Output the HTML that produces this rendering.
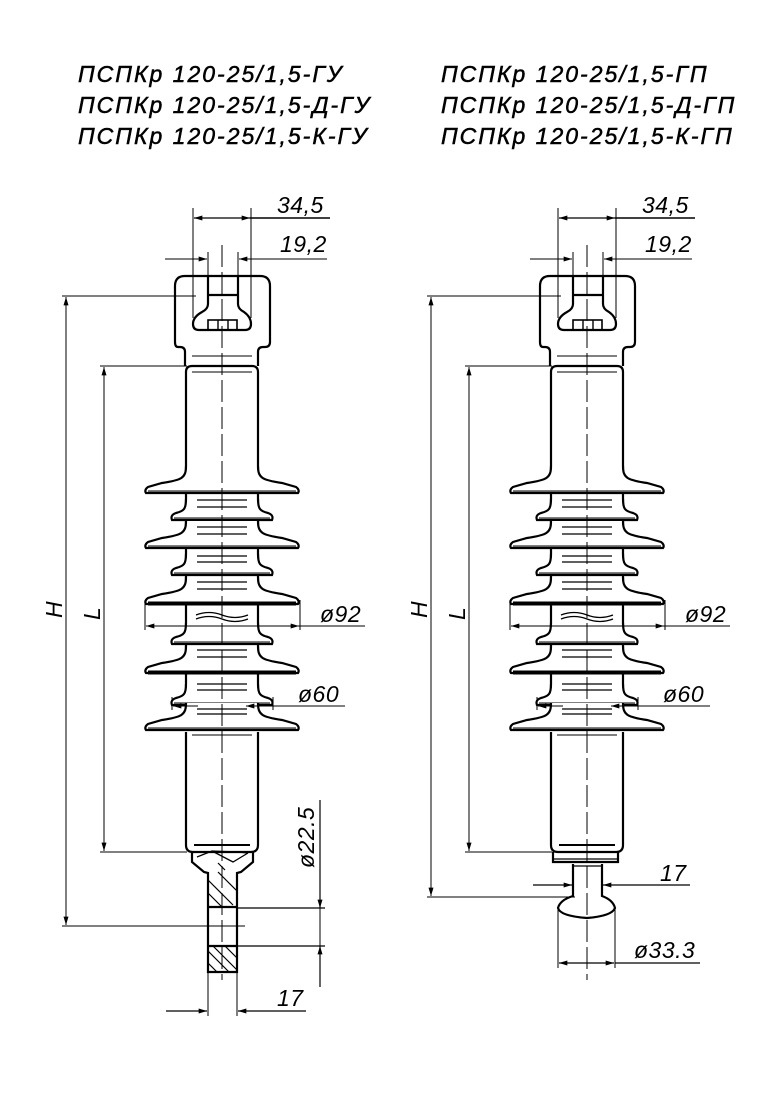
<!DOCTYPE html>
<html><head><meta charset="utf-8"><style>
html,body{margin:0;padding:0;background:#fff;}
svg{display:block;}
.t{font-family:"Liberation Sans","DejaVu Sans",sans-serif;font-style:italic;font-size:23px;letter-spacing:2px;fill:#000;stroke:#000;stroke-width:0.5;}
.d{font-family:"Liberation Sans","DejaVu Sans",sans-serif;font-style:italic;font-size:23px;letter-spacing:0.5px;fill:#000;}
</style></head><body>
<svg width="784" height="1103" viewBox="0 0 784 1103" xmlns="http://www.w3.org/2000/svg">
<defs>
<marker id="a" viewBox="0 0 10 6" refX="10" refY="3" markerWidth="12" markerHeight="5" orient="auto-start-reverse" markerUnits="userSpaceOnUse"><path d="M0,0 L10,3 L0,6z" fill="#000"/></marker>
<g id="big" fill="#fff" stroke="#000" stroke-width="2.2">
<path d="M-36,-20 C-36,-8 -40,-6 -60,-3 L-74,1 Q-78,4 -76,7 L76,7 Q78,4 74,1 L60,-3 C40,-6 36,-8 36,-20"/>
<line x1="-74" y1="5" x2="74" y2="5" stroke-width="1"/>
</g>
<g id="small" fill="#fff" stroke="#000" stroke-width="2.2">
<path d="M-36,-16 C-36,-6 -38,-4 -46,-2 Q-52,0 -50,5 L50,5 Q52,0 46,-2 C38,-4 36,-6 36,-16"/>
<line x1="-48" y1="3" x2="48" y2="3" stroke-width="1"/>
</g>
<g id="ins">
<path d="M-37,366 L-37,352 Q-37,347 -42,347 L-44,347 Q-47,347 -47,342 L-47,286 Q-47,276 -37,276 L38,276 Q48,276 48,286 L48,342 Q48,347 43,347 L41,347 Q36,347 36,352 L36,366" fill="none" stroke="#000" stroke-width="2.2"/>
<path d="M-14,276 L-14,304 Q-14,309 -20,312 Q-29,317 -29,324 Q-29,330 -23,330 L23,330 Q29,330 29,324 Q29,317 22,312 Q16,309 16,304 L16,276" fill="none" stroke="#000" stroke-width="2.2"/>
<line x1="-14" y1="295" x2="16" y2="295" stroke="#000" stroke-width="2.2"/>
<rect x="-14" y="320" width="29" height="10" fill="none" stroke="#000" stroke-width="1.6"/>
<line x1="-4" y1="320" x2="-4" y2="330" stroke="#000" stroke-width="1.4"/>
<line x1="6" y1="320" x2="6" y2="330" stroke="#000" stroke-width="1.4"/>
<line x1="-30" y1="356" x2="30" y2="356" stroke="#000" stroke-width="1"/>
<path d="M-36,480 L-36,372 Q-36,366 -30,366 L30,366 Q36,366 36,372 L36,480" fill="none" stroke="#000" stroke-width="2.2"/>
<line x1="-30" y1="372" x2="30" y2="372" stroke="#000" stroke-width="1"/>
<line x1="-30" y1="474" x2="30" y2="474" stroke="#000" stroke-width="2"/>
<line x1="-36" y1="490" x2="-36" y2="730" stroke="#000" stroke-width="2.2"/>
<line x1="36" y1="490" x2="36" y2="730" stroke="#000" stroke-width="2.2"/>
<use href="#big" y="486"/>
<use href="#small" y="515"/>
<use href="#big" y="541"/>
<use href="#small" y="570"/>
<use href="#big" y="597"/>
<use href="#small" y="639"/>
<use href="#big" y="666"/>
<use href="#small" y="700"/>
<use href="#big" y="723"/>
<line x1="-74" y1="604" x2="74" y2="604" stroke="#000" stroke-width="3"/>
<line x1="-74" y1="673" x2="74" y2="673" stroke="#000" stroke-width="3"/>
<g stroke="#000" stroke-width="1.3">
<line x1="-25" y1="500" x2="25" y2="500"/><line x1="-25" y1="507" x2="25" y2="507"/>
<line x1="-25" y1="527" x2="25" y2="527"/><line x1="-25" y1="534" x2="25" y2="534"/>
<line x1="-25" y1="556" x2="25" y2="556"/><line x1="-25" y1="562" x2="25" y2="562"/>
<line x1="-25" y1="582" x2="25" y2="582"/><line x1="-25" y1="589" x2="25" y2="589"/>
<line x1="-25" y1="650" x2="25" y2="650"/><line x1="-25" y1="657" x2="25" y2="657"/>
<line x1="-25" y1="684" x2="25" y2="684"/><line x1="-25" y1="690" x2="25" y2="690"/>
<line x1="-25" y1="709" x2="25" y2="709"/><line x1="-25" y1="714" x2="25" y2="714"/>
</g>
<path d="M-26,615 Q-13,610 0,615 T26,615 M-26,619 Q-13,614 0,619 T26,619" fill="none" stroke="#000" stroke-width="1.3"/>
<path d="M-36,732 L-36,845 Q-36,852 -29,852 L29,852 Q36,852 36,845 L36,732" fill="none" stroke="#000" stroke-width="2.2"/>
<line x1="-30" y1="735" x2="30" y2="735" stroke="#000" stroke-width="1"/>
<line x1="-28" y1="845" x2="28" y2="845" stroke="#000" stroke-width="2"/>
<line x1="-29" y1="208" x2="-29" y2="318" stroke="#000" stroke-width="1"/>
<line x1="29" y1="208" x2="29" y2="318" stroke="#000" stroke-width="1"/>
<line x1="-14" y1="252" x2="-14" y2="276" stroke="#000" stroke-width="1"/>
<line x1="16" y1="252" x2="16" y2="276" stroke="#000" stroke-width="1"/>
<line x1="-28" y1="218" x2="0" y2="218" stroke="#000" stroke-width="1.2" marker-start="url(#a)"/>
<line x1="0" y1="218" x2="28" y2="218" stroke="#000" stroke-width="1.2" marker-end="url(#a)"/>
<line x1="28" y1="218" x2="108" y2="218" stroke="#000" stroke-width="1.6"/>
<line x1="-57" y1="259" x2="-15" y2="259" stroke="#000" stroke-width="1" marker-end="url(#a)"/>
<line x1="105" y1="259" x2="17" y2="259" stroke="#000" stroke-width="1" marker-end="url(#a)"/>
<text class="d" x="55" y="213">34,5</text>
<text class="d" x="58" y="252">19,2</text>
<line x1="-77" y1="600" x2="-77" y2="630" stroke="#000" stroke-width="1"/>
<line x1="78" y1="600" x2="78" y2="630" stroke="#000" stroke-width="1"/>
<line x1="-76" y1="626" x2="143" y2="626" stroke="#000" stroke-width="1" marker-start="url(#a)"/>
<line x1="0" y1="626" x2="77" y2="626" stroke="#000" stroke-width="1" marker-end="url(#a)"/>
<text class="d" x="98" y="622">ø92</text>
<line x1="-50" y1="697" x2="-50" y2="710" stroke="#000" stroke-width="1"/>
<line x1="51" y1="697" x2="51" y2="710" stroke="#000" stroke-width="1"/>
<line x1="-49" y1="706" x2="-24" y2="706" stroke="#000" stroke-width="1" marker-start="url(#a)"/>
<line x1="123" y1="706" x2="24" y2="706" stroke="#000" stroke-width="1" marker-end="url(#a)"/>
<text class="d" x="76" y="702">ø60</text>
<line x1="0" y1="245" x2="0" y2="980" stroke="#000" stroke-width="1" stroke-dasharray="22,5"/>
</g>
</defs>

<text class="t" x="78" y="82">ПСПКр 120-25/1,5-ГУ</text>
<text class="t" x="78" y="113">ПСПКр 120-25/1,5-Д-ГУ</text>
<text class="t" x="78" y="144">ПСПКр 120-25/1,5-К-ГУ</text>
<text class="t" x="441" y="82">ПСПКр 120-25/1,5-ГП</text>
<text class="t" x="441" y="113">ПСПКр 120-25/1,5-Д-ГП</text>
<text class="t" x="441" y="144">ПСПКр 120-25/1,5-К-ГП</text>

<use href="#ins" x="222"/>
<use href="#ins" x="587"/>

<g stroke="#000" fill="none">
<path d="M192,852 L192,862 L204,872 L208,873 L208,972 L237,972 L237,873 L241,872 L253,862 L253,852" stroke-width="2.2"/>
<path d="M197,857 L212,851 L237,852 L248,853 M212,851 L233,862 L248,853" stroke-width="1.3"/>
<line x1="208" y1="907" x2="237" y2="907" stroke-width="2.2"/>
<line x1="208" y1="946" x2="237" y2="946" stroke-width="2.2"/>
<g stroke-width="1.2">
<line x1="208" y1="880" x2="233" y2="905"/><line x1="218" y1="872" x2="237" y2="891"/><line x1="208" y1="893" x2="222" y2="907"/>
<line x1="208" y1="951" x2="229" y2="972"/><line x1="213" y1="946" x2="237" y2="970"/><line x1="225" y1="946" x2="237" y2="958"/><line x1="208" y1="963" x2="217" y2="972"/>
<line x1="218" y1="863" x2="225" y2="870"/>
</g>
<line x1="237" y1="908" x2="325" y2="908" stroke-width="1.2"/>
<line x1="237" y1="946" x2="325" y2="946" stroke-width="1.2"/>
<line x1="320" y1="800" x2="320" y2="908" stroke-width="1.2" marker-end="url(#a)"/>
<line x1="320" y1="987" x2="320" y2="946" stroke-width="1.2" marker-end="url(#a)"/>
<line x1="320" y1="908" x2="320" y2="946" stroke-width="1"/>
<line x1="208" y1="972" x2="208" y2="1016" stroke-width="1"/>
<line x1="237" y1="972" x2="237" y2="1016" stroke-width="1"/>
<line x1="166" y1="1011" x2="207" y2="1011" stroke-width="1.2" marker-end="url(#a)"/>
<line x1="306" y1="1011" x2="238" y2="1011" stroke-width="1.2" marker-end="url(#a)"/>
<line x1="62" y1="296" x2="196" y2="296" stroke-width="1"/>
<line x1="62" y1="926" x2="245" y2="926" stroke-width="1"/>
<line x1="100" y1="366" x2="187" y2="366" stroke-width="1"/>
<line x1="100" y1="852" x2="187" y2="852" stroke-width="1"/>
<line x1="66" y1="600" x2="66" y2="297" stroke-width="1" marker-end="url(#a)"/>
<line x1="66" y1="600" x2="66" y2="925" stroke-width="1" marker-end="url(#a)"/>
<line x1="104" y1="600" x2="104" y2="367" stroke-width="1" marker-end="url(#a)"/>
<line x1="104" y1="600" x2="104" y2="851" stroke-width="1" marker-end="url(#a)"/>
</g>
<text class="d" transform="translate(314,868) rotate(-90)">ø22.5</text>
<text class="d" x="277" y="1006">17</text>
<text class="d" transform="translate(62,618) rotate(-90)">H</text>
<text class="d" transform="translate(100,620) rotate(-90)">L</text>

<g stroke="#000" fill="none">
<path d="M553,852 L553,862 L618,862 L618,852" stroke-width="2.2"/>
<line x1="553" y1="859" x2="618" y2="859" stroke-width="1.3"/>
<path d="M573,864 L573,896 Q560,900 558,908 Q560,916 587,918 Q612,916 615,908 Q613,900 602,896 L602,864" stroke-width="2.2"/>
<line x1="573" y1="866" x2="602" y2="866" stroke-width="1.3"/>
<line x1="533" y1="885" x2="572" y2="885" stroke-width="1.2" marker-end="url(#a)"/>
<line x1="690" y1="885" x2="603" y2="885" stroke-width="1.2" marker-end="url(#a)"/>
<line x1="558" y1="908" x2="558" y2="968" stroke-width="1"/>
<line x1="615" y1="908" x2="615" y2="968" stroke-width="1"/>
<line x1="587" y1="963" x2="559" y2="963" stroke-width="1.2" marker-end="url(#a)"/>
<line x1="587" y1="963" x2="614" y2="963" stroke-width="1.2" marker-end="url(#a)"/>
<line x1="615" y1="963" x2="700" y2="963" stroke-width="1.2"/>
<line x1="427" y1="296" x2="561" y2="296" stroke-width="1"/>
<line x1="427" y1="897" x2="575" y2="897" stroke-width="1"/>
<line x1="465" y1="366" x2="552" y2="366" stroke-width="1"/>
<line x1="465" y1="852" x2="552" y2="852" stroke-width="1"/>
<line x1="431" y1="600" x2="431" y2="297" stroke-width="1" marker-end="url(#a)"/>
<line x1="431" y1="600" x2="431" y2="896" stroke-width="1" marker-end="url(#a)"/>
<line x1="469" y1="600" x2="469" y2="367" stroke-width="1" marker-end="url(#a)"/>
<line x1="469" y1="600" x2="469" y2="851" stroke-width="1" marker-end="url(#a)"/>
</g>
<text class="d" x="660" y="881">17</text>
<text class="d" x="634" y="958">ø33.3</text>
<text class="d" transform="translate(427,618) rotate(-90)">H</text>
<text class="d" transform="translate(465,620) rotate(-90)">L</text>
</svg>
</body></html>
